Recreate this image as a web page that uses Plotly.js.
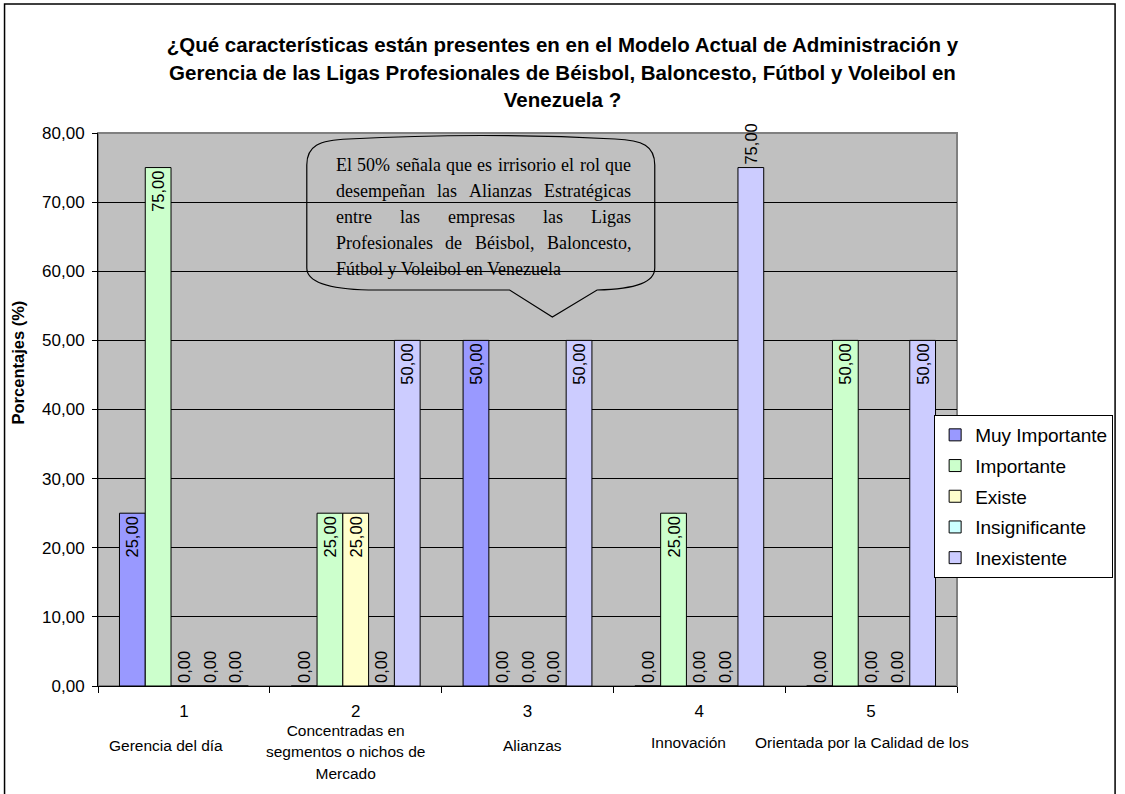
<!DOCTYPE html>
<html><head><meta charset="utf-8">
<script src="https://cdn.plot.ly/plotly-3.0.1.min.js"></script>
<style>html,body{margin:0;padding:0;background:#fff}#chart{width:1125px;height:794px}</style>
</head><body><div id="chart"></div>
<script>
// ---------- data ----------
const categories = ['1', '2', '3', '4', '5'];
const categoryLabels = [
  'Gerencia del día',
  'Concentradas en<br>segmentos o nichos de<br>Mercado',
  'Alianzas',
  'Innovación',
  'Orientada por la Calidad de los'
];
const seriesNames = ['Muy Importante', 'Importante', 'Existe', 'Insignificante', 'Inexistente'];
const muyImportante = [25, 0, 50, 0, 0];
const importante = [75, 25, 0, 25, 50];
const existe = [0, 25, 0, 0, 0];
const insignificante = [0, 0, 0, 0, 0];
const inexistente = [0, 50, 50, 75, 50];
const yTicks = [0, 10, 20, 30, 40, 50, 60, 70, 80];
const titleLines = [
  '¿Qué características están presentes en en el Modelo Actual de Administración y',
  'Gerencia de las Ligas Profesionales de Béisbol, Baloncesto, Fútbol y Voleibol en',
  'Venezuela ?'
];
const yAxisTitle = 'Porcentajes (%)';
const calloutLines = [
  'El 50% señala que es irrisorio el rol que',
  'desempeñan las Alianzas Estratégicas',
  'entre las empresas las Ligas',
  'Profesionales de Béisbol, Baloncesto,',
  'Fútbol y Voleibol en Venezuela'
];

// ---------- styles / layout helpers ----------
const seriesValues = [muyImportante, importante, existe, insignificante, inexistente];
const seriesColors = ['#9999FF', '#CCFFCC', '#FFFFCC', '#CCFFFF', '#CCCCFF'];
const SANS = 'Liberation Sans, Arial, sans-serif';
const SERIF = 'Liberation Serif, Times New Roman, serif';
const W = 1125, H = 794, L = 98, R = 962, T = 133, B = 686;
const fx = px => (px - L) / (R - L);
const fy = py => (B - py) / (B - T);

// label placement per bar (style): inside top for non-zero bars, above for zeros
const labelOverrides = {'4,3': 'outside'};

const traces = seriesValues.map((vals, s) => ({
  type: 'bar',
  name: seriesNames[s],
  x: categories,
  y: vals,
  marker: {color: seriesColors[s], line: {color: '#000000', width: 1}},
  texttemplate: '%{y:.2f}',
  textposition: vals.map((v, i) => labelOverrides[s + ',' + i] || (v > 0 ? 'inside' : 'outside')),
  insidetextanchor: 'end',
  textangle: -90,
  constraintext: 'none',
  cliponaxis: false,
  textfont: {family: SANS, size: 16.5, color: '#000'},
  hoverinfo: 'skip',
  legendgroup: 'g' + s
}));

const annotations = [];

// category description labels (x given as category index)
const labelCenterY = [745, 752, 745, 742, 742];
const labelShiftX = [-18, -10, 5, -11, -9];
categoryLabels.forEach((lab, i) => {
  const txt = lab.split('<br>').map(l => '<span style="font-size:15.5px">' + l + '</span>').join('<br>');
  annotations.push({
    xref: 'x', yref: 'paper', x: i, y: fy(labelCenterY[i]),
    xshift: labelShiftX[i], xanchor: 'center', yanchor: 'middle',
    text: txt, showarrow: false, align: 'center',
    font: {family: SANS, size: 16.5, color: '#000'}
  });
});

// y axis title
annotations.push({
  xref: 'paper', yref: 'paper', x: fx(18), y: fy(362), xanchor: 'center', yanchor: 'middle',
  text: '<b>' + yAxisTitle + '</b>', textangle: -90, showarrow: false,
  font: {family: SANS, size: 16.5, color: '#000'}
});

// callout text, justified
const CFONT = 18;
const cv = document.createElement('canvas').getContext('2d');
cv.font = CFONT + 'px "Liberation Serif"';
const cLeft = 336, cRight = 633;
const cY = [165, 191, 217, 243, 269];
calloutLines.forEach((line, li) => {
  const words = line.split(' ');
  if (li === calloutLines.length - 1) {
    annotations.push({xref: 'paper', yref: 'paper', x: fx(cLeft), y: fy(cY[li]), xanchor: 'left', yanchor: 'middle',
      text: line, showarrow: false, borderpad: 0, font: {family: SERIF, size: CFONT, color: '#000'}});
    return;
  }
  const widths = words.map(w => cv.measureText(w).width);
  const total = widths.reduce((a, b) => a + b, 0);
  const gap = (cRight - cLeft - total) / (words.length - 1);
  let cur = cLeft;
  words.forEach((w, wi) => {
    annotations.push({xref: 'paper', yref: 'paper', x: fx(cur), y: fy(cY[li]), xanchor: 'left', yanchor: 'middle',
      text: w, showarrow: false, borderpad: 0, font: {family: SERIF, size: CFONT, color: '#000'}});
    cur += widths[wi] + gap;
  });
});

// callout bubble path (pixel coords converted to paper)
const P = (x, y) => fx(x).toFixed(5) + ',' + fy(y).toFixed(5);
const bubble = 'M' + P(308, 165) +
  ' C' + P(308, 146) + ' ' + P(320, 140) + ' ' + P(350, 139) +
  ' Q' + P(483, 132) + ' ' + P(618, 139) +
  ' C' + P(646, 140) + ' ' + P(658, 146) + ' ' + P(658, 165) +
  ' L' + P(658, 268) +
  ' C' + P(658, 282) + ' ' + P(640, 289) + ' ' + P(600, 290) +
  ' L' + P(555, 317) + ' L' + P(512, 290) + ' L' + P(370, 290) +
  ' C' + P(330, 289) + ' ' + P(308, 282) + ' ' + P(308, 268) + ' Z';

const shapes = [
  {type: 'rect', xref: 'paper', yref: 'paper', x0: 0, x1: 1, y0: 0, y1: 1,
   line: {color: '#808080', width: 2}, layer: 'below'},
  {type: 'path', xref: 'paper', yref: 'paper', path: bubble,
   line: {color: '#000000', width: 1.2}, fillcolor: 'rgba(0,0,0,0)', layer: 'above'},
  {type: 'rect', xref: 'paper', yref: 'paper', x0: fx(4), x1: fx(1121), y0: fy(805), y1: fy(4),
   line: {color: '#000000', width: 1.5}, fillcolor: 'rgba(0,0,0,0)', layer: 'above'}
];

const layout = {
  width: W, height: H, autosize: false,
  margin: {l: L, r: W - R, t: T, b: H - B, pad: 0},
  paper_bgcolor: '#ffffff', plot_bgcolor: '#C0C0C0',
  separators: ',.',
  font: {family: SANS, color: '#000'},
  title: {
    text: titleLines.map(l => '<span style="font-size:20.5px"><b>' + l + '</b></span>').join('<br>'),
    font: {family: SANS, size: 21.2, color: '#000'},
    x: 0.5, xanchor: 'center', xref: 'container',
    y: 1 - 52 / H, yanchor: 'middle', yref: 'container'
  },
  barmode: 'group', bargap: 0.25, bargroupgap: 0,
  xaxis: {
    type: 'category', categoryorder: 'array', categoryarray: categories, range: [-0.5, 4.5],
    showline: true, linecolor: '#000', linewidth: 1,
    ticks: 'outside', tickson: 'boundaries', ticklen: 6, tickcolor: '#000', tickwidth: 1,
    tickfont: {family: SANS, size: 17, color: '#000'},
    showgrid: false, zeroline: false, fixedrange: true, ticklabelstandoff: 10
  },
  yaxis: {
    range: [0, 80], tickvals: yTicks, tickformat: '.2f',
    showline: true, linecolor: '#000', linewidth: 1,
    ticks: 'outside', ticklen: 5, tickcolor: '#000',
    tickfont: {family: SANS, size: 17, color: '#000'},
    showgrid: true, gridcolor: '#000', gridwidth: 1, zeroline: false, fixedrange: true,
    ticklabelstandoff: 4
  },
  showlegend: true,
  legend: {
    x: fx(939), y: fy(415), xanchor: 'left', yanchor: 'top',
    bgcolor: '#ffffff', bordercolor: '#000', borderwidth: 1,
    font: {family: SANS, size: 19, color: '#000'},
    traceorder: 'grouped', tracegroupgap: 3
  },
  annotations: annotations,
  shapes: shapes,
  hovermode: false
};

Plotly.newPlot('chart', traces, layout, {staticPlot: true, displayModeBar: false});
</script>
</body></html>
